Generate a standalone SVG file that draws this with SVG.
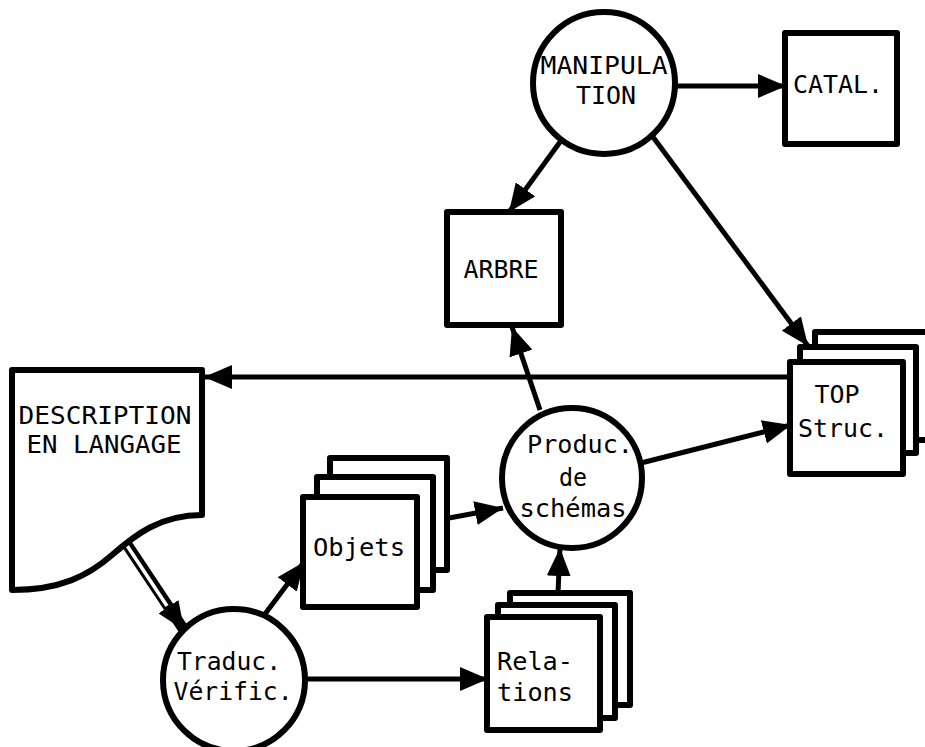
<svg xmlns="http://www.w3.org/2000/svg" width="925" height="747" viewBox="0 0 925 747">
<style>
.shape{fill:#fff;stroke:#000;stroke-width:6;stroke-linejoin:round}
.lbl{font-family:"DejaVu Sans Mono","Liberation Mono",monospace;font-size:24px;fill:#000;text-anchor:middle}
.lbl.l{text-anchor:start}
.con{fill:none;stroke:#000;stroke-width:5}
</style>
<defs>
<marker id="ah" viewBox="0 0 28 24" refX="28" refY="12" markerWidth="28" markerHeight="24" markerUnits="userSpaceOnUse" orient="auto">
<path d="M0,0 L28,12 L0,24 Z" fill="#000"/>
</marker>
</defs>
<rect width="925" height="747" fill="#fff"/>
<g id="connectors">
<path class="con" d="M676,86 L786,86" marker-end="url(#ah)"/>
<path class="con" d="M560,142 L509,212" marker-end="url(#ah)"/>
<path class="con" d="M653,137 L808,346" marker-end="url(#ah)"/>
<path class="con" d="M790,377 L204,377" marker-end="url(#ah)"/>
<path fill="none" stroke="#000" stroke-width="11" d="M126,543 L184,630" marker-end="url(#ah)"/>
<path fill="none" stroke="#fff" stroke-width="3.5" d="M122,538 L167,606"/>
<path class="con" d="M265,614 L304,562" marker-end="url(#ah)"/>
<path class="con" d="M306,679 L488,679" marker-end="url(#ah)"/>
<path class="con" d="M449,518 L503,508" marker-end="url(#ah)"/>
<path class="con" d="M558,593 L560,548" marker-end="url(#ah)"/>
<path class="con" d="M540,410 L512,327" marker-end="url(#ah)"/>
<path class="con" d="M641,463 L791,425" marker-end="url(#ah)"/>
</g>
<g id="manipulation">
<circle class="shape" cx="604" cy="83" r="71"/>
<text class="lbl" x="604" y="74" textLength="127" lengthAdjust="spacingAndGlyphs">MANIPULA</text>
<text class="lbl" x="606" y="104" textLength="60" lengthAdjust="spacingAndGlyphs">TION</text>
</g>
<g id="catal">
<rect class="shape" x="785" y="33" width="112" height="111"/>
<text class="lbl" x="838" y="93" textLength="90" lengthAdjust="spacingAndGlyphs">CATAL.</text>
</g>
<g id="arbre">
<rect class="shape" x="447" y="212" width="114" height="113"/>
<text class="lbl" x="501" y="278" textLength="75" lengthAdjust="spacingAndGlyphs">ARBRE</text>
</g>
<g id="top-struc">
<rect class="shape" x="815" y="332" width="125" height="108"/>
<rect class="shape" x="800" y="347" width="116" height="106"/>
<rect class="shape" x="790" y="362" width="113" height="112"/>
<text class="lbl" x="837" y="403" textLength="45" lengthAdjust="spacingAndGlyphs">TOP</text>
<text class="lbl" x="843" y="437" textLength="90" lengthAdjust="spacingAndGlyphs">Struc.</text>
</g>
<g id="description">
<path class="shape" d="M12,370 L202,370 L202,515 C160,515 135,535 112,555 C88,576 60,590 12,590 Z"/>
<text class="lbl" x="105" y="424" textLength="173" lengthAdjust="spacingAndGlyphs">DESCRIPTION</text>
<text class="lbl" x="104" y="453" textLength="155" lengthAdjust="spacingAndGlyphs">EN LANGAGE</text>
</g>
<g id="traduc">
<circle class="shape" cx="234" cy="680" r="71"/>
<text class="lbl" x="229" y="670" textLength="104" lengthAdjust="spacingAndGlyphs">Traduc.</text>
<text class="lbl" x="233" y="700" textLength="119" lengthAdjust="spacingAndGlyphs">Vérific.</text>
</g>
<g id="objets">
<rect class="shape" x="330" y="458" width="117" height="112"/>
<rect class="shape" x="317" y="477" width="116" height="113"/>
<rect class="shape" x="303" y="497" width="114" height="110"/>
<text class="lbl" x="359" y="556" textLength="92" lengthAdjust="spacingAndGlyphs">Objets</text>
</g>
<g id="produc">
<circle class="shape" cx="572" cy="478" r="70"/>
<text class="lbl" x="580" y="453" textLength="106" lengthAdjust="spacingAndGlyphs">Produc.</text>
<text class="lbl" x="573" y="486" textLength="28" lengthAdjust="spacingAndGlyphs">de</text>
<text class="lbl" x="573" y="517" textLength="107" lengthAdjust="spacingAndGlyphs">schémas</text>
</g>
<g id="relations">
<rect class="shape" x="510" y="593" width="120" height="112"/>
<rect class="shape" x="498" y="605" width="117" height="113"/>
<rect class="shape" x="487" y="617" width="113" height="113"/>
<text class="lbl l" x="497" y="670" textLength="76" lengthAdjust="spacingAndGlyphs">Rela-</text>
<text class="lbl l" x="497" y="701" textLength="76" lengthAdjust="spacingAndGlyphs">tions</text>
</g>
</svg>
